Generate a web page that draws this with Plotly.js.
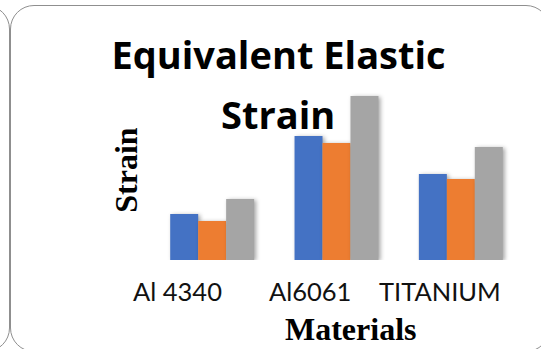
<!DOCTYPE html>
<html>
<head>
<meta charset="utf-8">
<script src="https://cdn.plot.ly/plotly-3.0.1.min.js"></script>
<style>
  html, body { margin: 0; padding: 0; background: #ffffff; overflow: hidden; }
  #wrap { position: relative; width: 541px; height: 349px; overflow: hidden; }
  .frame {
    position: absolute; box-sizing: border-box;
    border: 1px solid #8f8f8f; border-radius: 24px; background: transparent;
  }
  #frameMain { left: 10px; top: 5px; width: 540px; height: 347px; }
  #frameSide { left: -300px; top: 5px; width: 310px; height: 347px; }
  #chart { position: absolute; left: 0; top: 0; width: 541px; height: 349px; }
  #chart .barlayer .point path { filter: drop-shadow(2px 1px 2px rgba(0,0,0,0.35)); }
</style>
</head>
<body>
<div id="wrap">
  <div class="frame" id="frameSide"></div>
  <div class="frame" id="frameMain"></div>
  <div id="chart"></div>
</div>
<script>
// Materials compared and the three strain series per material
const materials = ['Al 4340', 'Al6061', 'TITANIUM'];
const seriesNames = ['Series 1', 'Series 2', 'Series 3'];
const series1 = [4.6, 12.4, 8.6];
const series2 = [3.9, 11.7, 8.1];
const series3 = [6.1, 16.4, 11.3];
const seriesColors = ['#4472C4', '#ED7D31', '#A5A5A5'];

// Horizontal nudge of each category label (px)
const labelShift = [-35, -27, -21];

const traces = [series1, series2, series3].map((vals, i) => ({
  type: 'bar',
  name: seriesNames[i],
  x: materials,
  y: vals,
  marker: { color: seriesColors[i], line: { width: 0 } },
  hoverinfo: 'x+y+name'
}));

const titleFont = { family: '"Open Sans", Lato, sans-serif', size: 38, color: '#000000', weight: 'bold' };
const labelFont = { family: 'Lato, "Open Sans", sans-serif', size: 25.5, color: '#111111' };
const serifBold = { family: '"Liberation Serif", "Times New Roman", serif', size: 32, color: '#000000', weight: 'bold' };

// category labels under each bar group
const annotations = materials.map((m, i) => ({
  text: m, x: m, xref: 'x', y: -0.172, yref: 'paper',
  xanchor: 'center', yanchor: 'middle', xshift: labelShift[i],
  showarrow: false, font: labelFont
}));

// second line of the chart title
annotations.push({
  text: 'Strain', x: 0.3445, xref: 'paper', y: 0.81, yref: 'paper',
  xanchor: 'center', yanchor: 'middle', showarrow: false,
  font: titleFont
});

// x-axis title
annotations.push({
  text: 'Materials', x: 0.539, xref: 'paper', y: -0.382, yref: 'paper',
  xanchor: 'center', yanchor: 'middle', showarrow: false, font: serifBold
});

const layout = {
  width: 541,
  height: 349,
  margin: { l: 150, r: 18, t: 80, b: 89, pad: 0, autoexpand: false },
  paper_bgcolor: 'rgba(0,0,0,0)',
  plot_bgcolor: 'rgba(0,0,0,0)',
  showlegend: false,
  barmode: 'group',
  bargap: 0.325,
  bargroupgap: 0,
  title: {
    text: 'Equivalent Elastic',
    x: 278.5 / 541, xanchor: 'center', xref: 'container',
    y: 1 - 56 / 349, yanchor: 'middle', yref: 'container',
    font: titleFont
  },
  xaxis: {
    type: 'category', automargin: false,
    range: [-0.5, materials.length - 0.5], autorange: false,
    showticklabels: false,
    showgrid: false, zeroline: false, showline: false, ticks: ''
  },
  yaxis: {
    range: [0, 18], autorange: false, automargin: false,
    showticklabels: false,
    showgrid: false, zeroline: false, showline: false, ticks: '',
    title: { text: 'Strain', standoff: 1, font: serifBold }
  },
  annotations: annotations
};

Plotly.newPlot('chart', traces, layout, { displayModeBar: false, staticPlot: true });
</script>
</body>
</html>
